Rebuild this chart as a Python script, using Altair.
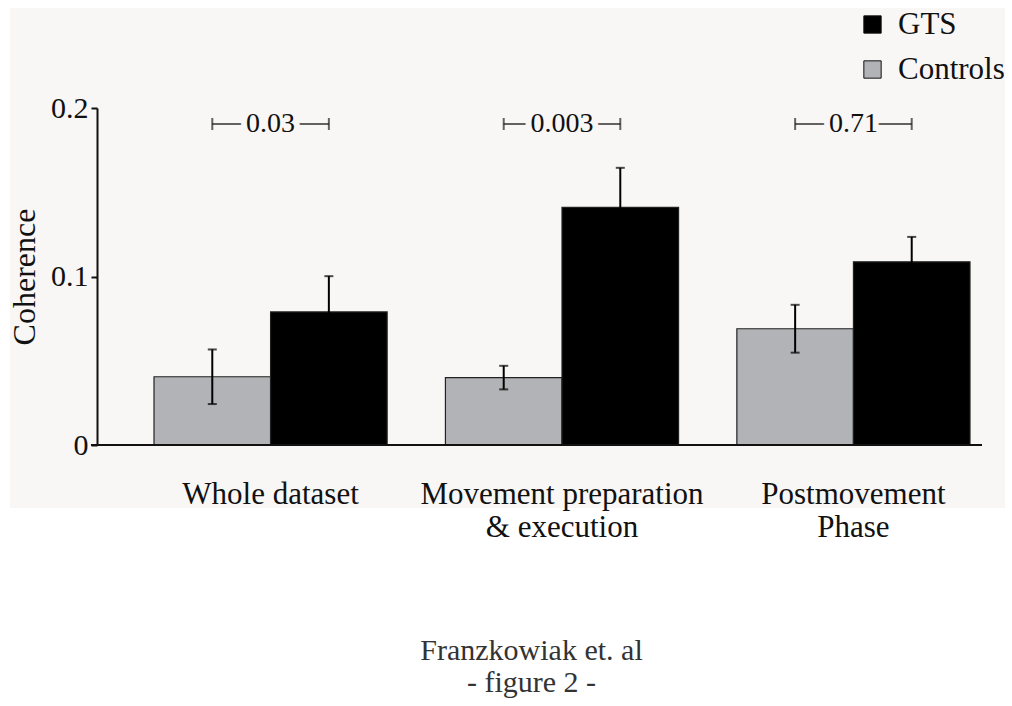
import altair as alt
import pandas as pd

# Mean coherence and standard error per analysis window
groups = ["Whole dataset", "Movement preparation\n& execution", "Postmovement\nPhase"]
series = ["Controls", "GTS"]
controls_mean = [0.0405, 0.0400, 0.0690]
controls_err = [0.0162, 0.0070, 0.0142]
gts_mean = [0.0790, 0.1410, 0.1087]
gts_err = [0.0212, 0.0235, 0.0148]
p_values = ["0.03", "0.003", "0.71"]
bracket_level = 0.1905

SERIF = "Liberation Serif"
PANEL_BG = "#f8f7f6"
GREY = "#b1b3b6"

rows = []
for i, g in enumerate(groups):
    for s, m, e in (("Controls", controls_mean, controls_err), ("GTS", gts_mean, gts_err)):
        rows.append({"group": g, "series": s, "mean": m[i], "lo": m[i] - e[i], "hi": m[i] + e[i]})
bars = pd.DataFrame(rows)
pvals = pd.DataFrame({"group": groups, "p": p_values})

x_enc = alt.X(
    "group:N",
    sort=groups,
    scale=alt.Scale(range=[57, 873], paddingInner=0.2, paddingOuter=0),
    axis=alt.Axis(
        title=None, ticks=False, domain=False, labelAngle=0, zindex=1,
        labelFont=SERIF, labelFontSize=31, labelColor="#111", labelLimit=500,
        labelPadding=34, labelLineHeight=33,
        labelExpr="split(datum.label, '\\n')",
    ),
)
xoff_enc = alt.XOffset("series:N", sort=series, scale=alt.Scale(paddingInner=0, paddingOuter=0))
y_scale = alt.Scale(domain=[0, 0.2], nice=False)

base = alt.Chart(bars)

# light panel behind the plot, axes and legend
panel = alt.Chart(pvals).mark_rect(fill=PANEL_BG).encode(
    x=alt.value(-87), x2=alt.value(908), y=alt.value(-100), y2=alt.value(400)
)

bar_layer = base.mark_bar(stroke="#222", strokeWidth=1.2).encode(
    x=x_enc,
    xOffset=xoff_enc,
    y=alt.Y(
        "mean:Q",
        scale=y_scale,
        axis=alt.Axis(
            title="Coherence", values=[0, 0.1, 0.2], zindex=1,
            labelExpr="datum.value == 0 ? '0' : format(datum.value, '.1f')",
            grid=False, domainColor="#111", domainWidth=2,
            tickColor="#111", tickWidth=2, tickSize=6,
            labelFont=SERIF, labelFontSize=30, labelColor="#111", labelPadding=3,
            titleFont=SERIF, titleFontSize=32, titleFontWeight="normal",
            titleColor="#111", titlePadding=9,
        ),
    ),
    fill=alt.Fill(
        "series:N",
        scale=alt.Scale(domain=["GTS", "Controls"], range=["#000000", GREY]),
        legend=alt.Legend(
            title=None, orient="none", legendX=760, legendY=-99,
            symbolType="square", symbolSize=300, symbolStrokeColor="#111",
            symbolStrokeWidth=1, labelFont=SERIF, labelFontSize=31,
            labelColor="#111", labelOffset=10, rowPadding=13,
        ),
    ),
)

baseline = alt.Chart(pvals).mark_rule(color="#111", strokeWidth=2).encode(
    y=alt.datum(0), x=alt.value(-6), x2=alt.value(885)
)

whisker = base.mark_rule(color="#000", strokeWidth=2).encode(
    x=x_enc, xOffset=xoff_enc, y=alt.Y("lo:Q", scale=y_scale), y2="hi:Q"
)
cap_hi = base.mark_tick(orient="horizontal", size=9, thickness=2, color="#000").encode(
    x=x_enc, xOffset=xoff_enc, y=alt.Y("hi:Q", scale=y_scale)
)
cap_lo = base.mark_tick(orient="horizontal", size=9, thickness=2, color="#000").encode(
    x=x_enc, xOffset=xoff_enc, y=alt.Y("lo:Q", scale=y_scale)
)

# Significance brackets spanning the two bars of each group
bracket_line = alt.Chart(pvals).mark_tick(orient="horizontal", size=117, thickness=2, color="#222").encode(
    x=x_enc, y=alt.datum(bracket_level, scale=y_scale)
)
bracket_end = base.mark_tick(orient="vertical", size=12, thickness=2, color="#222").encode(
    x=x_enc, xOffset=xoff_enc, y=alt.datum(bracket_level, scale=y_scale)
)
p_halo = alt.Chart(pvals).mark_text(
    font=SERIF, fontSize=28, fill=PANEL_BG, stroke=PANEL_BG, strokeWidth=12, baseline="middle"
).encode(x=x_enc, y=alt.datum(bracket_level, scale=y_scale), text="p:N")
p_text = alt.Chart(pvals).mark_text(
    font=SERIF, fontSize=28, color="#111", baseline="middle"
).encode(x=x_enc, y=alt.datum(bracket_level, scale=y_scale), text="p:N")

chart = alt.layer(
    panel, bar_layer, whisker, cap_hi, cap_lo, baseline,
    bracket_line, bracket_end, p_halo, p_text,
).properties(
    width=885,
    height=337,
    autosize=alt.AutoSizeParams(type="none"),
    padding={"left": 97, "top": 108, "right": 30, "bottom": 261},
    background="white",
    title=alt.TitleParams(
        text=["Franzkowiak et. al", "- figure 2 -"],
        orient="bottom", anchor="middle", offset=94, dx=-8,
        font=SERIF, fontSize=30, fontWeight="normal", color="#333", lineHeight=32,
    ),
).configure_view(stroke=None)

chart.save("out.html", embed_options={"renderer": "svg", "actions": False})
